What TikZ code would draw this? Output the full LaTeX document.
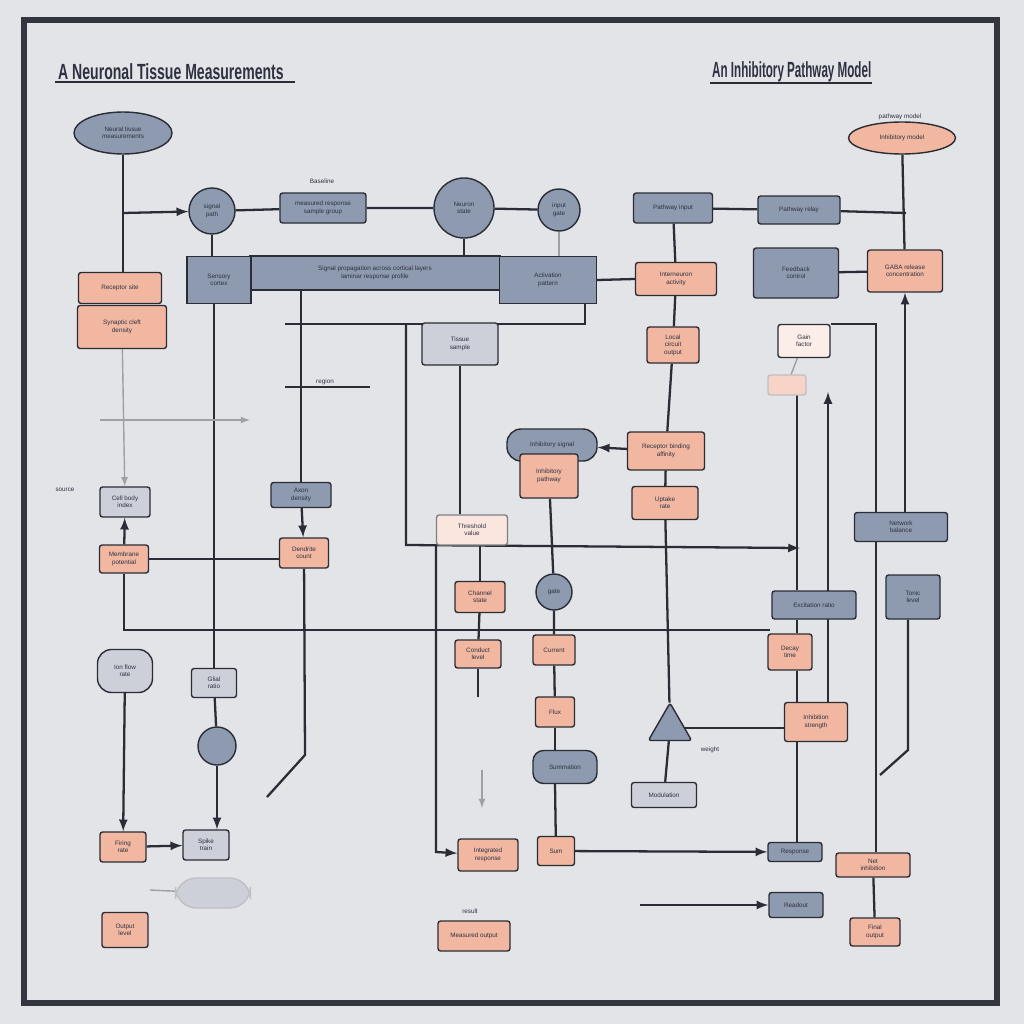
\documentclass[tikz,border=0pt]{standalone}
\usepackage{fontspec}
\setmainfont{Liberation Sans}
\usetikzlibrary{shapes.geometric}

\definecolor{bgcol}{HTML}{E3E4E8}
\definecolor{bluefill}{HTML}{8D9AAF}
\definecolor{salfill}{HTML}{F1B7A1}
\definecolor{greyfill}{HTML}{CDD0D8}
\definecolor{edge}{HTML}{2A2C36}
\definecolor{txt}{HTML}{2E3140}
\definecolor{frame}{HTML}{33353F}

\pgfdeclarelayer{back}
\pgfdeclarelayer{wires}
\pgfsetlayers{back,wires,main}

\tikzset{
  bx/.style={draw=edge, line width=0.8pt, rounded corners=1.5pt, text=txt,
    font=\fontsize{3.6}{4.2}\selectfont, align=center, inner sep=1pt},
  blu/.style={bx, fill=bluefill},
  sal/.style={bx, fill=salfill},
  gry/.style={bx, fill=greyfill},
  sz/.style 2 args={minimum width=#1*0.02cm, minimum height=#2*0.02cm},
  rnd/.style={circle, inner sep=0pt, minimum size=#1*0.02cm},
  wire/.style={draw=edge, line width=1.3pt},
  faint/.style={draw=edge!45, line width=0.8pt},
  lbl/.style={font=\fontsize{3.6}{4}\selectfont, text=txt},
}

\begin{document}
\begin{tikzpicture}[x=0.02cm, y=-0.02cm, >=latex]
    \begin{pgfonlayer}{back}
    \fill[bgcol] (0,0) rectangle (1024,1024);
    \draw[frame, line width=3pt] (24,20) rectangle (997,1003);
    \end{pgfonlayer}
    \useasboundingbox (0,0) rectangle (1024,1024);

    % titles
    \node[anchor=west, text=txt, font=\bfseries\fontsize{12.5}{14}\selectfont] (title1) at (52,72)
        {\scalebox{0.64}[1]{A Neuronal Tissue Measurements}};
    \node[anchor=west, text=txt, font=\bfseries\fontsize{12.5}{14}\selectfont] (title2) at (706,72)
        {\scalebox{0.53}[1]{An Inhibitory Pathway Model}};
    \draw[edge, line width=1pt] (55,82) -- (295,82);
    \draw[edge, line width=1pt] (710,83) -- (872,83);

    % top row
    \node[blu, ellipse, sz={98}{42}] (E1) at (123,133) {Neural tissue\\ measurements};
    \node[blu, rnd=46] (C1) at (212,211) {signal\\ path};
    \node[lbl] (lab1) at (322,181) {Baseline};
    \node[blu, sz={86}{30}] (B1) at (323,208) {measured response\\ sample group};
    \node[blu, rnd=60] (C2) at (464,208) {Neuron\\ state};
    \node[blu, rnd=42] (C3) at (559,210) {input\\ gate};

    \node[blu, sz={250}{34}, rounded corners=0pt] (BAR) at (375,273)
        {Signal propagation across cortical layers\\ laminar response profile};
    \node[blu, sz={64}{47}, rounded corners=0pt] (L) at (219,280) {Sensory\\ cortex};
    \node[blu, sz={97}{47}, rounded corners=0pt] (R) at (548,280) {Activation\\ pattern};

    \node[sal, sz={83}{31}] (S1) at (120,288) {Receptor site};
    \node[sal, sz={89}{43}] (S2) at (122,327) {Synaptic cleft\\ density};

    % left half
    \node[gry, sz={76}{42}] (G2) at (460,344) {Tissue\\ sample};
    \node[lbl] (lab2) at (325,382) {region};
    \node[blu, sz={60}{25}] (G1) at (301,495) {Axon\\ density};
    \node[sal, sz={49}{30}] (P1) at (304,553) {Dendrite\\ count};
    \node[gry, sz={50}{30}] (K1) at (125,502) {Cell body\\ index};
    \node[lbl] (lab3) at (65,490) {source};
    \node[sal, sz={49}{28}] (S5) at (124,559) {Membrane\\ potential};
    \node[gry, rounded corners=8pt, sz={55}{43}] (R1) at (125,671) {Ion flow\\ rate};
    \node[gry, sz={45}{29}] (N1) at (214,683) {Glial\\ ratio};
    \node[blu, rnd=38] (C4) at (217,746) {};
    \node[sal, sz={46}{30}] (S6) at (123,847) {Firing\\ rate};
    \node[gry, sz={46}{30}] (G3) at (206,845) {Spike\\ train};
    \node[gry, draw=edge!30, rounded corners=12pt, sz={75}{30}] (PL) at (213,893) {};
    \node[sal, sz={46}{35}] (S7) at (125,930) {Output\\ level};

    % middle
    \node[gry, fill=salfill!35, draw=edge!60, sz={71}{30}] (F1) at (472,530) {Threshold\\ value};
    \node[blu, rounded corners=8pt, sz={90}{32}] (BL1) at (552,445) {Inhibitory signal};
    \node[sal, sz={58}{44}] (P2) at (549,476) {Inhibitory\\ pathway};
    \node[sal, sz={77}{38}] (Q2) at (666,451) {Receptor binding\\ affinity};
    \node[sal, sz={66}{33}] (Q3) at (665,503) {Uptake\\ rate};
    \node[sal, sz={50}{31}] (Q9) at (480,597) {Channel\\ state};
    \node[blu, rnd=36] (C5) at (554,592) {gate};
    \node[sal, sz={46}{28}] (Q10) at (478,654) {Conduct\\ level};
    \node[sal, sz={42}{30}] (Q12) at (554,650) {Current};
    \node[sal, sz={39}{30}] (Q13) at (555,712) {Flux};
    \node[blu, rounded corners=6pt, sz={64}{33}] (BL2) at (565,767) {Summation};
    \node[blu, regular polygon, regular polygon sides=3, minimum size=50*0.02cm] (TR) at (670,728) {};
    \node[gry, sz={65}{25}] (G4) at (664,795) {Modulation};
    \node[lbl] (lab5) at (710,750) {weight};
    \node[sal, sz={37}{29}] (Q11) at (556,851) {Sum};
    \node[sal, sz={60}{32}] (Q14) at (488,855) {Integrated\\ response};
    \node[lbl] (lab6) at (470,911) {result};
    \node[sal, sz={72}{30}] (Q15) at (474,936) {Measured output};

    % right half
    \node[blu, sz={79}{30}] (TB1) at (673,208) {Pathway input};
    \node[blu, sz={82}{28}] (TB2) at (799,210) {Pathway relay};
    \node[lbl] (lab4) at (900,117) {pathway model};
    \node[sal, ellipse, sz={107}{32}] (E2) at (902,138) {Inhibitory model};
    \node[sal, sz={75}{42}] (Q5) at (905,271) {GABA release\\ concentration};
    \node[blu, sz={85}{50}] (BB1) at (796,273) {Feedback\\ control};
    \node[sal, sz={81}{33}] (Q1) at (676,279) {Interneuron\\ activity};
    \node[sal, sz={52}{36}] (Q4) at (673,345) {Local\\ circuit\\ output};
    \node[gry, fill=salfill!25, sz={52}{33}] (LB1) at (804,341) {Gain\\ factor};
    \node[sal, fill=salfill!60, draw=edge!30, sz={38}{20}] (FS) at (787,385) {};
    \node[blu, sz={93}{29}] (BB2) at (901,527) {Network\\ balance};
    \node[blu, sz={84}{28}] (BB3) at (814,605) {Excitation ratio};
    \node[blu, sz={54}{44}] (BB5) at (913,597) {Tonic\\ level};
    \node[sal, sz={44}{36}] (U1) at (790,652) {Decay\\ time};
    \node[sal, sz={63}{39}] (Q7) at (816,722) {Inhibition\\ strength};
    \node[blu, sz={54}{19}] (BB4) at (795,852) {Response};
    \node[sal, sz={74}{24}] (Q6) at (873,865) {Net\\ inhibition};
    \node[sal, sz={50}{28}] (Q8) at (875,932) {Final\\ output};
    \node[blu, sz={54}{25}] (BB6) at (796,905) {Readout};

    % free ends
    \coordinate (j1) at (123,213);
    \coordinate (k1) at (305,755); \coordinate (k2) at (267,797);
    \coordinate (h1) at (285,324); \coordinate (h2) at (585,324);
    \coordinate (h3) at (406,324); \coordinate (h4) at (406,545);
    \coordinate (h5) at (800,548);
    \coordinate (m1) at (285,387); \coordinate (m2) at (370,387);
    \coordinate (a1) at (100,420); \coordinate (a2) at (250,420);
    \coordinate (g1) at (770,630);
    \coordinate (p1) at (150,890);
    \coordinate (j2) at (906,213); \coordinate (j3) at (876,324);
    \coordinate (a3) at (828,392); \coordinate (v2) at (797,395);
    \coordinate (v3) at (908,750); \coordinate (v4) at (880,775);
    \coordinate (a4) at (640,905);
    \coordinate (e1) at (478,697);
    \coordinate (e2) at (482,770); \coordinate (e3) at (482,808);
    \coordinate (v5) at (436,852);

    \begin{pgfonlayer}{wires}
    % connectors, left
    \draw[wire] (E1.south) -- (E1.south |- S1.north);
    \draw[wire, ->] (j1) -- (C1);
    \draw[wire] (C1) -- (B1) -- (C2) -- (C3);
    \draw[wire] (C1) -- (C1 |- L.north);
    \draw[wire] (C2) -- (C2 |- BAR.north);
    \draw[faint] (C3) -- (C3 |- R.north);
    \draw[wire] (N1 |- L.south) -- (N1);
    \draw[wire] (G1 |- BAR.south) -- (G1);
    \draw[wire, ->] (G1) -- (P1);
    \draw[wire] (P1) -- (k1) -- (k2);
    \draw[wire] (S5.east) -- (S5.east -| P1.west);
    \draw[wire] (h2 |- R.south) -- (h2) -- (h1);
    \draw[wire, ->] (h3) -- (h4) -- (h5);
    \draw[wire] (G2.south) -- (G2.south |- F1.north);
    \draw[wire] (m1) -- (m2);
    \draw[wire] (R.east) -- (Q1.west);
    \draw[faint, ->] (S2) -- (K1);
    \draw[faint, ->] (a1) -- (a2);
    \draw[wire, ->] (S5) -- (K1);
    \draw[wire] (S5) |- (g1);
    \draw[wire, ->] (R1) -- (S6);
    \draw[wire, ->] (S6) -- (G3);
    \draw[wire] (N1) -- (C4);
    \draw[wire, ->] (C4) -- (C4 |- G3.north);
    \draw[faint] (p1) -- (PL);

    % connectors, middle
    \draw[wire, ->] (Q2) -- (BL1);
    \draw[wire] (F1.south -| Q9.north) -- (Q9.north);
    \draw[wire] (Q9) -- (Q10);
    \draw[wire] (Q10) -- (e1);
    \draw[faint, ->] (e2) -- (e3);
    \draw[wire] (P2) -- (C5) -- (Q12) -- (Q13);
    \draw[wire] (Q13) -- (Q13 |- BL2.north);
    \draw[wire] (Q13 |- BL2.south) -- (Q11);
    \draw[wire, ->] (v5 |- h4) -- (v5) -- (Q14);
    \draw[wire, ->] (Q11) -- (BB4);
    \draw[wire] (TR) -- (G4);
    \draw[wire] (TR.east) -- (TR.east -| Q7.west);

    % connectors, right
    \draw[wire] (TB1) -- (Q1);
    \draw[wire] (Q1) -- (Q4);
    \draw[wire] (Q4) -- (Q2);
    \draw[wire] (Q2) -- (Q3);
    \draw[wire] (Q3) -- (TR);
    \draw[wire] (TB1) -- (TB2);
    \draw[wire] (TB2) -- (j2);
    \draw[wire] (E2) -- (Q5);
    \draw[wire] (BB1) -- (Q5);
    \draw[wire] (LB1.east |- j3) -- (j3) -- (j3 |- Q6.north);
    \draw[wire, ->] (BB2.north -| Q5.south) -- (Q5.south);
    \draw[wire, ->] (Q7.north -| a3) -- (a3);
    \draw[faint] (LB1) -- (FS);
    \draw[wire] (v2) -- (v2 |- BB3.north);
    \draw[wire] (BB3.south -| v2) -- (v2 |- U1.north);
    \draw[wire] (v2 |- U1.south) -- (v2 |- BB4.north);
    \draw[wire] (BB5.south -| v3) -- (v3) -- (v4);
    \draw[wire] (Q6) -- (Q8);
    \draw[wire, ->] (a4) -- (BB6);
    \end{pgfonlayer}
\end{tikzpicture}
\end{document}
